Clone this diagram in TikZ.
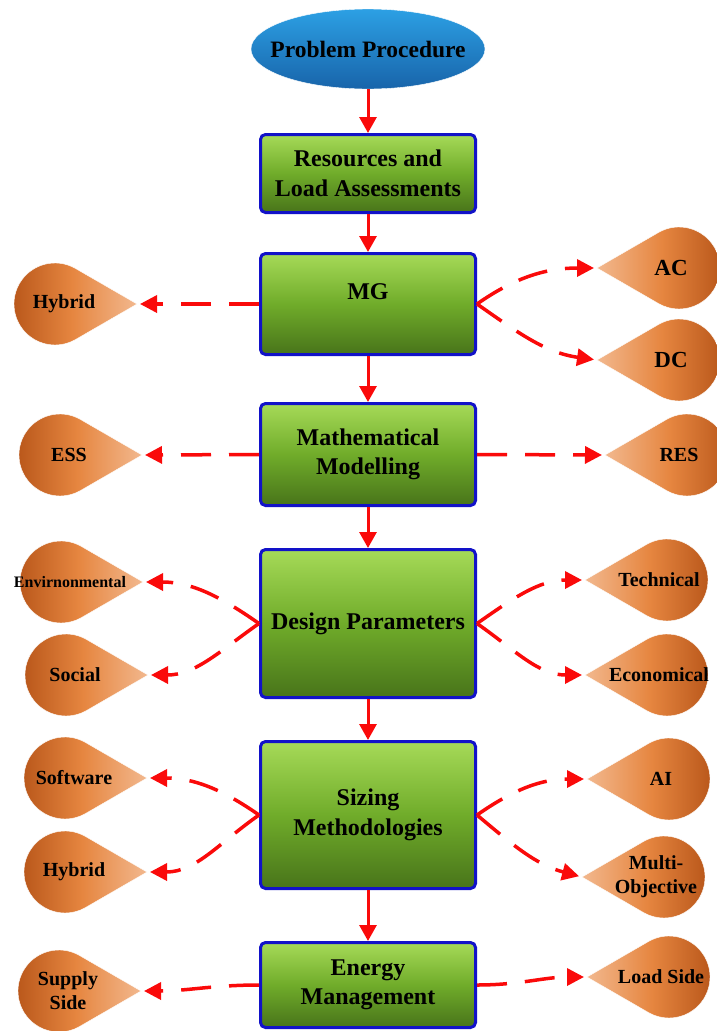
\documentclass[tikz,border=0pt]{standalone}
\usepackage{fontspec}
\setmainfont{Liberation Serif}
\usepackage{tikz,xcolor}
\usetikzlibrary{shapes.geometric,arrows.meta,calc}

\definecolor{boxtop}{RGB}{166,218,88}
\definecolor{boxmid}{RGB}{112,172,42}
\definecolor{boxbot}{RGB}{72,116,26}
\definecolor{boxline}{RGB}{18,18,200}
\definecolor{ovaltop}{RGB}{44,160,228}
\definecolor{ovalbot}{RGB}{24,100,170}
\definecolor{dropdark}{RGB}{182,84,24}
\definecolor{dropmid}{RGB}{230,134,64}
\definecolor{droplight}{RGB}{242,184,142}
\definecolor{linkred}{RGB}{250,10,10}

\begin{document}
\begin{tikzpicture}[x=1pt,y=1pt,
  stepbox/.style={rectangle,rounded corners=5pt,draw=boxline,line width=3pt,top color=boxtop,bottom color=boxbot,middle color=boxmid,minimum width=215pt,inner sep=2pt,align=center,font=\fontsize{24}{29.5}\selectfont\bfseries},
  ovalbox/.style={ellipse,top color=ovaltop,bottom color=ovalbot,draw=white,thin,minimum width=234pt,minimum height=80pt,inner xsep=-20pt,inner ysep=0pt,font=\fontsize{23.5}{28}\selectfont\bfseries},
  droptext/.style={align=center,inner sep=0pt,font=\fontsize{20}{24}\selectfont\bfseries},
  flowarrow/.style={linkred,line width=3pt,-{Triangle[length=16pt,width=17pt]}},
  linkdash/.style={linkred,line width=3.5pt,dash pattern=on 30pt off 18pt,-{Triangle[length=17pt,width=17pt]},shorten >=3pt},
  ldrop/.pic={
    \shade[left color=dropdark,right color=droplight,middle color=dropmid,draw=white,thin] (82,0) -- (60:41) arc[start angle=60,end angle=300,radius=41pt] -- cycle;
    \node[droptext] (-t) at (9,0) {#1};
    \coordinate (-tip) at (82,0);
  },
  rdrop/.pic={
    \shade[left color=droplight,right color=dropdark,middle color=dropmid,draw=white,thin] (-82,0) -- (120:41) arc[start angle=120,end angle=-120,radius=41pt] -- cycle;
    \node[droptext] (-t) at (-8,0) {#1};
    \coordinate (-tip) at (-82,0);
  }]
\useasboundingbox (0,0) rectangle (716,-1031);

% main column
\node[ovalbox] (prob) at (368,-49) {Problem Procedure};
\node[stepbox,minimum height=78pt] (res) at (368,-173.5) {Resources and\\Load Assessments};
\node[stepbox,minimum height=101pt,text depth=24pt] (mg) at (368,-304) {MG};
\node[stepbox,minimum height=102pt] (math) at (368,-454.5) {Mathematical\\Modelling};
\node[stepbox,minimum height=148pt] (design) at (368,-623.5) {Design Parameters};
\node[stepbox,minimum height=147pt] (sizing) at (368,-815) {Sizing\\Methodologies};
\node[stepbox,minimum height=85pt] (energy) at (368,-985) {Energy\\Management};

\draw[flowarrow] (prob) -- (res);
\draw[flowarrow] (res) -- (mg);
\draw[flowarrow] (mg) -- (math);
\draw[flowarrow] (math) -- (design);
\draw[flowarrow] (design) -- (sizing);
\draw[flowarrow] (sizing) -- (energy);

% left drops
\pic (hybA) at (55,-304) {ldrop=Hybrid};
\pic (ess) at (60,-455) {ldrop=ESS};
\pic (env) at (61,-582) {ldrop={\fontsize{16}{20}\selectfont Envirnonmental}};
\pic (soc) at (66,-675) {ldrop=Social};
\pic (soft) at (65,-778) {ldrop=Software};
\pic (hybB) at (65,-872) {ldrop=Hybrid};
\pic (sup) at (59,-991) {ldrop={Supply\\Side}};

% right drops
\pic (ac) at (679,-268) {rdrop={\fontsize{23}{27}\selectfont AC}};
\pic (dc) at (679,-360) {rdrop={\fontsize{23}{27}\selectfont DC}};
\pic (resd) at (687,-455) {rdrop=RES};
\pic (tech) at (667,-580) {rdrop=Technical};
\pic (eco) at (667,-675) {rdrop=Economical};
\pic (ai) at (669,-779) {rdrop=AI};
\pic (multi) at (664,-877) {rdrop={Multi-\\Objective}};
\pic (load) at (669,-977) {rdrop={Load Side}};

% dashed links
\draw[linkdash] (mg.west) -- (hybA-tip);
\draw[linkdash] (mg.east) to[out=35,in=180] (ac-tip);
\draw[linkdash] (mg.east) to[out=-35,in=172] (dc-tip);

\draw[linkdash] (math.west) -- (ess-tip);
\draw[linkdash] (math.east) -- (resd-tip);

\draw[linkdash] (design.west) to[out=145,in=0] (env-tip);
\draw[linkdash] (design.west) to[out=-145,in=0] (soc-tip);
\draw[linkdash] (design.east) to[out=35,in=180] (tech-tip);
\draw[linkdash] (design.east) to[out=-35,in=180] (eco-tip);

\draw[linkdash] (sizing.west) to[out=145,in=0] (soft-tip);
\draw[linkdash] (sizing.west) to[out=-145,in=0] (hybB-tip);
\draw[linkdash] (sizing.east) to[out=35,in=180] (ai-tip);
\draw[linkdash] (sizing.east) to[out=-40,in=165] (multi-tip);

\draw[linkdash] (energy.west) to[out=180,in=0] (sup-tip);
\draw[linkdash] (energy.east) to[out=0,in=180] (load-tip);

\end{tikzpicture}
\end{document}
